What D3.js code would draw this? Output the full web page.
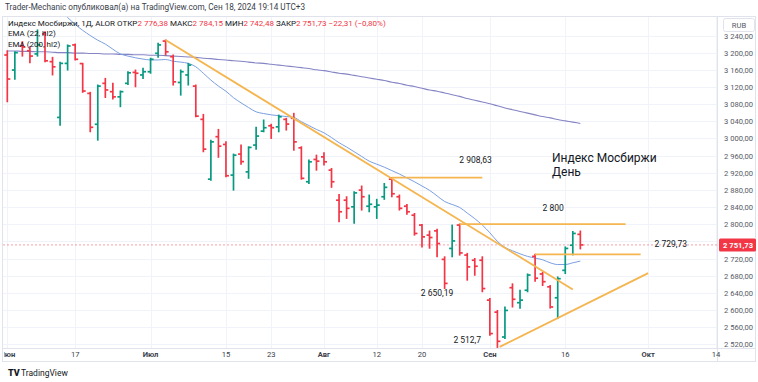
<!DOCTYPE html>
<html><head><meta charset="utf-8">
<script src="https://cdn.jsdelivr.net/npm/d3@7"></script>
<style>body{margin:0;background:#fff}svg{display:block;font-family:Roboto,"Open Sans",sans-serif}</style>
</head><body><svg id="c" width="758" height="382"></svg>
<script>
// ---------- data ----------
const dates = [
"2024-06-03","2024-06-04","2024-06-05","2024-06-06","2024-06-07","2024-06-10","2024-06-11","2024-06-13","2024-06-14","2024-06-17",
"2024-06-18","2024-06-19","2024-06-20","2024-06-21","2024-06-24","2024-06-25","2024-06-26","2024-06-27","2024-06-28",
"2024-07-01","2024-07-02","2024-07-03","2024-07-04","2024-07-05","2024-07-08","2024-07-09","2024-07-10","2024-07-11","2024-07-12",
"2024-07-15","2024-07-16","2024-07-17","2024-07-18","2024-07-19","2024-07-22","2024-07-23","2024-07-24","2024-07-25","2024-07-26",
"2024-07-29","2024-07-30","2024-07-31",
"2024-08-01","2024-08-02","2024-08-05","2024-08-06","2024-08-07","2024-08-08","2024-08-09","2024-08-12","2024-08-13","2024-08-14",
"2024-08-15","2024-08-16","2024-08-19","2024-08-20","2024-08-21","2024-08-22","2024-08-23","2024-08-26","2024-08-27","2024-08-28",
"2024-08-29","2024-08-30",
"2024-09-02","2024-09-03","2024-09-04","2024-09-05","2024-09-06","2024-09-09","2024-09-10","2024-09-11","2024-09-12","2024-09-13",
"2024-09-16","2024-09-17","2024-09-18"];

const open = [3194.5,3159.5,3215.5,3204.5,3197,3243.5,3179,3049,3175,3218,
3174.5,3105,3033,3128.5,3109,3097,3128.5,3154,3148,3155.5,
3198.5,3227,3190.5,3130.5,3148,3122,3044.5,2905,3004,2986,
2914.5,2963.5,2922,2984.5,3017,3029.5,3027,3044.5,3047,2978,
2899,2951,2957,2926,2856,2856,2840.5,2879.5,2842,2840.5,
2864,2905,2864,2842,2821,2798,2774.5,2784.5,2718,2743.5,
2798,2728,2716,2716,2623,2595,2537,2652,2617,2646,
2725,2684,2654,2628.5,2692.5,2751,2776.38];
const high = [3204.5,3202,3225.5,3214,3253,3249,3189,3177.5,3218,3220,
3175,3107.5,3124.5,3140,3128.5,3110.5,3155.5,3159.5,3163.5,3187,
3222,3229.5,3194.5,3159.5,3175,3124.5,3056,2996,3021,2992,
2963.5,2984.5,2980.5,3026,3043,3033,3054.5,3047,3058.5,2980.5,
2949.5,2961,2966.5,2930,2869.5,2864,2875.5,2889,2868,2858,
2895,2908.63,2868,2846,2825,2799.5,2784,2788,2724,2798,
2800.5,2732,2720,2724,2626.5,2599,2607,2661,2646,2684,
2729.73,2688,2657,2677,2747,2783,2784.15];
const low = [3085.5,3138,3192,3176.5,3192,3179,3148,3031,3159.5,3183,
3107.5,3015.5,2996,3095.5,3092,3074,3126,3120.5,3140,3152,
3189,3194.5,3124.5,3101,3124.5,3050.5,2969,2902.5,2956,2910.5,
2879.5,2940,2907,2974.5,3015.5,3000,3015.5,3019.5,2972.5,2905,
2895,2926,2938,2886,2805.5,2813.5,2802,2833,2829,2813.5,
2858,2864,2833,2823.5,2774.5,2747,2744,2724,2650.19,2724,
2728,2669.5,2681,2642.5,2541,2512.7,2533.5,2607,2604,2642.5,
2667,2657,2604.5,2580,2685,2728.5,2742.48];
const close = [3138.5,3200,3213,3192,3218,3181,3167,3175,3215.5,3184.5,
3110.5,3026,3122,3113,3097,3109,3153,3152,3155.5,3184.5,
3218,3202,3132,3155.5,3171,3052,2975,2992,2982,2913,
2961,2946,2979,3005.5,3025,3025,3050.5,3033.5,2992,2907,
2945.5,2947,2945.5,2899,2829,2837,2873,2864,2846.5,2844.5,
2886,2871,2837,2829,2778.5,2770.5,2769,2755,2662,2761,
2733,2700.5,2702,2650,2545,2527,2599,2625,2623,2681.5,
2674,2666,2607,2673,2743.5,2778.5,2751.73];

const ema22 = [null,null,null,null,null,null,3325,3300,3282,3266,
3252,3240,3229,3220,3208,3197,3192,3188,3185,3183,
3183,3184,3180,3178,3175,3167,3152,3136,3122,3110,
3095,3083,3072,3062,3058,3055,3053,3051,3049,3039,
3030,3021,3013,3002,2990,2980,2969,2958,2947,2940,
2933,2925,2917,2908,2899,2889,2879,2866,2853,2846,
2839,2826,2813,2798,2780,2760,2746,2738,2731,2725,
2721,2717,2710,2706,2706,2710,2714];
const ema200 = [3204,3204,3203,3203,3202,3202,3201,3200,3200,3199,
3199,3198,3198,3197,3197,3196,3196,3195,3195,3194,
3194,3193,3192,3191,3190,3189,3187,3186,3184,3183,
3181,3180,3178,3176,3175,3173,3171,3169,3167,3165,
3163,3160,3158,3155,3152,3150,3147,3144,3141,3138,
3135,3131,3128,3124,3121,3117,3113,3110,3106,3102,
3098,3093,3089,3085,3081,3076,3071,3067,3063,3059,
3055,3051,3048,3044,3041,3038,3035];

const priceTicks = [3240,3200,3160,3120,3080,3040,3000,2960,2920,2880,2840,2800,2760,2720,2680,2640,2600,2560,2520];
const timeTickLabels = ["Июн","17","Июл","15","23","Авг","12","20","Сен","16","Окт","14"];
const timeTickDates = ["2024-06-03","2024-06-17","2024-07-01","2024-07-15","2024-07-23","2024-08-01","2024-08-12","2024-08-20","2024-09-02","2024-09-16","2024-10-01","2024-10-14"];
const timeTickMonth = [true,false,true,false,false,true,false,false,true,false,true,false];

// drawings: [barIndex, price]
const trendDown = [[21,3229.5],[75,2648]];
const trendUp = [[65.3,2514],[85,2686]];
const levels = [
  {price:2908.63, from:51, to:63, label:"2 908,63", at:62.1, dy:-15},
  {price:2800, from:60, to:82, label:"2 800", at:72.4, dy:-13},
  {price:2729.73, from:70, to:84, label:"2 729,73", at:88, dy:-7}
];
const noteLabels = [
  {text:"2 650,19", i:57, price:2650.19, dy:8},
  {text:"2 512,7", i:61, price:2512.7, dy:-4}
];
const lastPrice = 2751.73;

// ---------- helpers ----------
function dayIndex(ds){
  const k = dates.indexOf(ds);
  if (k >= 0) return k;
  let d = new Date(dates[dates.length-1]+"T00:00:00Z"), t = new Date(ds+"T00:00:00Z"), n = dates.length-1;
  while (d < t){ d = new Date(d.getTime()+86400000); const wd=d.getUTCDay(); if (wd!==0 && wd!==6) n++; }
  return n;
}
const loc = d3.formatLocale({decimal:",", thousands:" ", grouping:[3], currency:["",""]});
const fmt = loc.format(",.2f");

const W=758,H=382;
const pane = {l:3, t:17, r:717, b:348};
const x = d3.scaleLinear().domain([0, dates.length-1]).range([7.3, 7.3+7.54*(dates.length-1)]);
const y = d3.scaleLinear().domain([2520, 3240]).range([344.3, 35.5]);

const svg = d3.select("#c");
const RED="#f23645", GREEN="#089981", ORANGE="#f5b54f";

svg.append("defs").append("clipPath").attr("id","pc").append("rect")
  .attr("x",pane.l).attr("y",pane.t).attr("width",pane.r-pane.l).attr("height",pane.b-pane.t);
svg.select("defs").append("clipPath").attr("id","tc").append("rect")
  .attr("x",pane.l+1).attr("y",pane.b).attr("width",W-pane.l).attr("height",20);

// header
svg.append("text").attr("x",5).attr("y",10).attr("font-size",8.2).attr("fill","#3a3e4a")
  .text("Trader-Mechanic опубликовал(а) на TradingView.com, Сен 18, 2024 19:14 UTC+3");

// frame
svg.append("rect").attr("x",pane.l-0.5).attr("y",pane.t-0.5).attr("width",W-pane.l-2).attr("height",362-pane.t)
  .attr("fill","none").attr("stroke","#e0e3eb");
svg.append("line").attr("x1",pane.r+0.5).attr("x2",pane.r+0.5).attr("y1",pane.t).attr("y2",362).attr("stroke","#e0e3eb");
svg.append("line").attr("x1",pane.l).attr("x2",W-2).attr("y1",pane.b+0.5).attr("y2",pane.b+0.5).attr("stroke","#e0e3eb");

const plot = svg.append("g").attr("clip-path","url(#pc)");

// grid
plot.selectAll(".hg").data(priceTicks).join("line")
  .attr("x1",pane.l).attr("x2",pane.r).attr("y1",d=>Math.round(y(d))+0.5).attr("y2",d=>Math.round(y(d))+0.5)
  .attr("stroke","#f0f3fa");
plot.selectAll(".vg").data(timeTickDates).join("line")
  .attr("x1",d=>Math.round(x(dayIndex(d)))+0.5).attr("x2",d=>Math.round(x(dayIndex(d)))+0.5)
  .attr("y1",pane.t).attr("y2",pane.b).attr("stroke","#f0f3fa");

// last price dashed line
plot.append("line").attr("x1",pane.l).attr("x2",pane.r).attr("y1",y(lastPrice)).attr("y2",y(lastPrice))
  .attr("stroke",RED).attr("stroke-opacity",0.6).attr("stroke-dasharray","2,2").attr("stroke-width",0.8);

// EMAs
const lineGen = d3.line().defined(d=>d[1]!=null).x(d=>x(d[0])).y(d=>y(d[1])).curve(d3.curveMonotoneX);
plot.append("path").attr("d",lineGen(ema200.map((v,i)=>[i,v]))).attr("fill","none").attr("stroke","#8584c4").attr("stroke-width",1.1);
plot.append("path").attr("d",lineGen(ema22.map((v,i)=>[i,v]))).attr("fill","none").attr("stroke","#7b9fe0").attr("stroke-width",1);

// bars
const idx = d3.range(dates.length);
const bars = plot.append("g").selectAll("g").data(idx).join("g")
  .attr("stroke",i=>close[i]>=open[i]?GREEN:RED).attr("stroke-width",1.7);
bars.append("line").attr("x1",i=>x(i)).attr("x2",i=>x(i)).attr("y1",i=>y(high[i])-0.5).attr("y2",i=>y(low[i])+0.5);
bars.append("line").attr("x1",i=>x(i)-3).attr("x2",i=>x(i)).attr("y1",i=>y(open[i])).attr("y2",i=>y(open[i]));
bars.append("line").attr("x1",i=>x(i)).attr("x2",i=>x(i)+3).attr("y1",i=>y(close[i])).attr("y2",i=>y(close[i]));

// drawings
[trendDown, trendUp].forEach(t=>{
  plot.append("line").attr("x1",x(t[0][0])).attr("y1",y(t[0][1])).attr("x2",x(t[1][0])).attr("y2",y(t[1][1]))
    .attr("stroke",ORANGE).attr("stroke-width",1.8);
});
levels.forEach(l=>{
  plot.append("line").attr("x1",x(l.from)).attr("x2",x(l.to)).attr("y1",y(l.price)).attr("y2",y(l.price))
    .attr("stroke",ORANGE).attr("stroke-width",1.8);
  plot.append("text").attr("x",x(l.at)).attr("y",y(l.price)+l.dy).attr("text-anchor","middle")
    .attr("font-size",8.5).attr("fill","#131722").text(l.label);
});
noteLabels.forEach(n=>{
  plot.append("text").attr("x",x(n.i)).attr("y",y(n.price)+n.dy).attr("text-anchor","middle")
    .attr("font-size",8.5).attr("fill","#131722").text(n.text);
});
const note = plot.append("text").attr("x",552).attr("font-size",12).attr("fill","#131722");
note.append("tspan").attr("x",552).attr("y",162).text("Индекс Мосбиржи");
note.append("tspan").attr("x",552).attr("y",176).text("День");

// legend
const lg = svg.append("text").attr("x",8).attr("y",26).attr("font-size",8).attr("fill","#131722");
lg.append("tspan").text("Индекс Мосбиржи, 1Д, ALOR  ОТКР");
lg.append("tspan").attr("fill",RED).text("2 776,38");
lg.append("tspan").text("  МАКС");
lg.append("tspan").attr("fill",RED).text("2 784,15");
lg.append("tspan").text("  МИН");
lg.append("tspan").attr("fill",RED).text("2 742,48");
lg.append("tspan").text("  ЗАКР");
lg.append("tspan").attr("fill",RED).text("2 751,73 −22,31 (−0,80%)");
svg.append("text").attr("x",8).attr("y",36).attr("font-size",8).attr("fill","#131722").text("EMA (22, hl2)");
svg.append("text").attr("x",8).attr("y",47).attr("font-size",8).attr("fill","#131722").text("EMA (200, hl2)");

// price axis (ticks hidden behind the last-price label are skipped)
const pa = svg.append("g");
pa.selectAll("text").data(priceTicks.filter(d=>Math.abs(y(d)-y(lastPrice))>10)).join("text")
  .attr("x",753).attr("y",d=>y(d)+3).attr("text-anchor","end").attr("font-size",7.6).attr("fill","#555b66")
  .text(d=>fmt(d));
pa.append("rect").attr("x",723.5).attr("y",18.5).attr("width",31).attr("height",13).attr("rx",2)
  .attr("fill","#fff").attr("stroke","#e0e3eb");
pa.append("text").attr("x",739).attr("y",28).attr("text-anchor","middle").attr("font-size",7.6).attr("fill","#555b66").text("RUB");
pa.append("rect").attr("x",719).attr("y",y(lastPrice)-6.5).attr("width",37).attr("height",13).attr("rx",1.5).attr("fill",RED);
pa.append("text").attr("x",753).attr("y",y(lastPrice)+3).attr("text-anchor","end").attr("font-size",7.6)
  .attr("font-weight","bold").attr("fill","#fff").text(fmt(lastPrice));

// time axis
svg.append("g").attr("clip-path","url(#tc)").selectAll("text").data(timeTickDates).join("text")
  .attr("x",d=>x(dayIndex(d))).attr("y",357).attr("text-anchor","middle").attr("font-size",7.6)
  .attr("font-weight",(d,i)=>timeTickMonth[i]?"bold":"normal").attr("fill","#3a3e4a")
  .text((d,i)=>timeTickLabels[i]);

// logo
const lo = svg.append("g");
lo.append("text").attr("x",8).attr("y",376).attr("font-size",9).attr("font-weight","900").attr("fill","#131722").text("TV");
lo.append("text").attr("x",21).attr("y",376).attr("font-size",8.5).attr("fill","#131722").text("TradingView");
</script></body></html>
